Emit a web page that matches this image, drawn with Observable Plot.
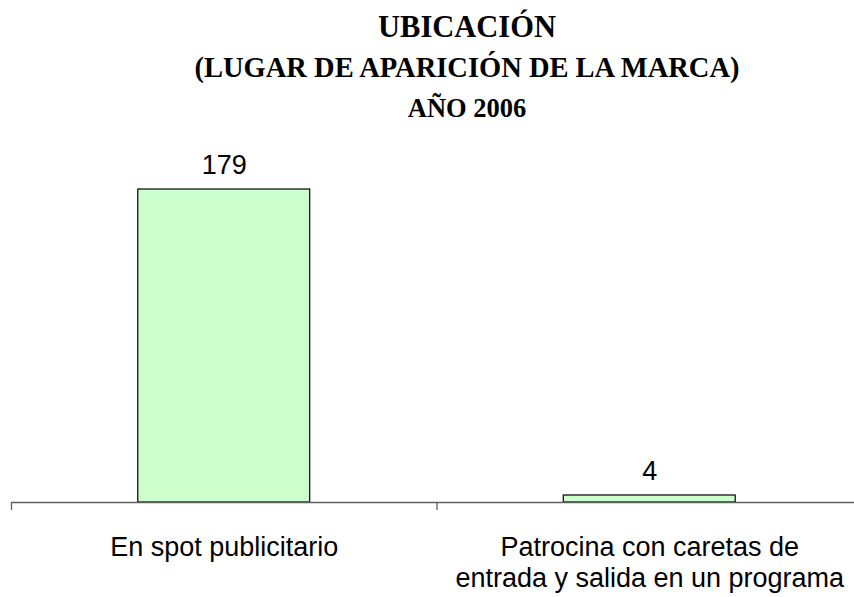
<!DOCTYPE html>
<html>
<head>
<meta charset="utf-8">
<script src="https://cdn.jsdelivr.net/npm/d3@7"></script>
<script src="https://cdn.jsdelivr.net/npm/@observablehq/plot@0.6"></script>
<style>
  html, body { margin: 0; padding: 0; background: #fff; overflow: hidden; }
  #wrap { position: relative; width: 854px; height: 597px; }
  .t { position: absolute; left: 467px; transform: translateX(-50%); white-space: nowrap;
       font-family: "Liberation Serif", "Times New Roman", serif; font-weight: bold; color: #000; }
  #chart { position: absolute; left: 0; top: 0; }
</style>
</head>
<body>
<div id="wrap">
  <div id="chart"></div>
  <div class="t" style="top:11.5px;font-size:30.5px;line-height:30.5px;">UBICACIÓN</div>
  <div class="t" style="top:54.1px;font-size:28.5px;line-height:28.5px;">(LUGAR DE APARICIÓN DE LA MARCA)</div>
  <div class="t" style="top:94.8px;font-size:26.5px;line-height:26.5px;">AÑO 2006</div>
</div>
<script>
const categories = ["En spot publicitario", "Patrocina con caretas de\nentrada y salida en un programa"];
const values = [179, 4];
const yMax = 200;

const data = categories.map((c, i) => ({i, category: c, value: values[i]}));
const bounds = d3.range(categories.length + 1).map(k => k - 0.5);
const half = 0.202;
const font = "'Liberation Sans', Arial, sans-serif";

const chart = Plot.plot({
  width: 854,
  height: 597,
  marginLeft: 11,
  marginRight: -8,
  marginTop: 152.3,
  marginBottom: 95,
  x: {type: "linear", domain: [-0.5, categories.length - 0.5], axis: null},
  y: {domain: [0, yMax], axis: null},
  style: {background: "transparent", overflow: "visible"},
  marks: [
    Plot.rectY(data, {x1: d => d.i - half, x2: d => d.i + half, y1: 0, y2: "value",
      fill: "#CCFFCC", stroke: "#000", strokeWidth: 1.2}),
    Plot.ruleY([0], {stroke: "#606060", strokeWidth: 1.3}),
    Plot.ruleX(bounds, {x: d => d, y1: 0, y2: 0, insetBottom: -8, stroke: "#606060", strokeWidth: 1.3}),
    Plot.text(data, {x: "i", y: "value", text: d => String(d.value), lineAnchor: "bottom",
      dy: -16, fontSize: 27, fontFamily: font, fill: "#000"}),
    Plot.text(data, {x: "i", y: 0, text: "category", lineAnchor: "top", dy: 31,
      lineHeight: 1.148, fontSize: 27, fontFamily: font, fill: "#000"})
  ]
});
document.getElementById("chart").appendChild(chart);
</script>
</body>
</html>
